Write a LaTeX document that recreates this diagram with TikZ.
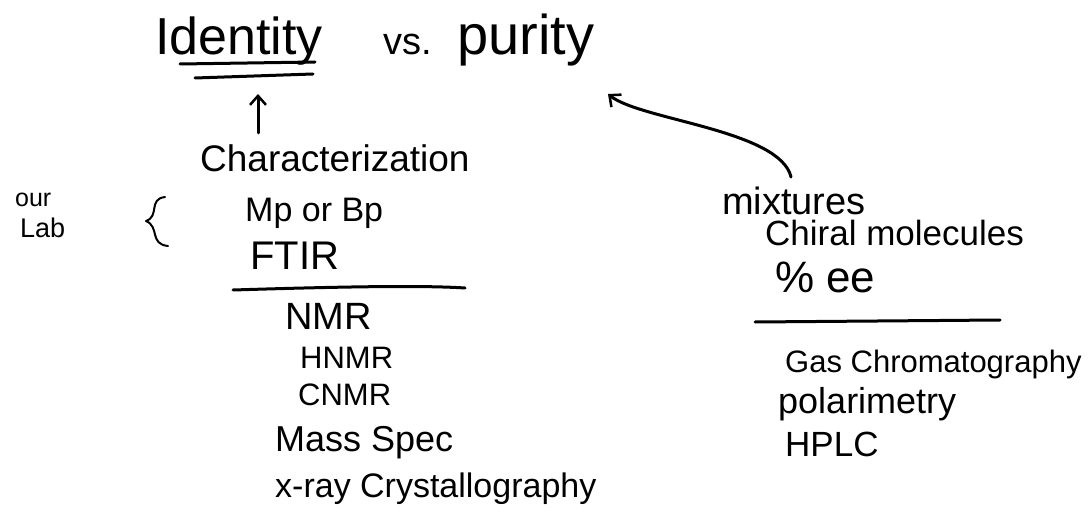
\documentclass[tikz,border=0pt]{standalone}
\usepackage{fontspec}
\setmainfont{Liberation Sans}
\usetikzlibrary{arrows.meta,calc}

\tikzset{
  hw/.style={anchor=base west, inner sep=0pt, font=\fontsize{#1}{#1}\selectfont},
  pen/.style={line width=3pt, line cap=round, line join=round},
  arr/.style={pen, -{Straight Barb[length=9pt,width=16pt,line width=2.5pt]}}
}

\begin{document}
\begin{tikzpicture}[x=1pt, y=-1pt]
    \useasboundingbox (0,0) rectangle (1092,529);

    % title
    \node[hw=52] (ident) at (155,55) {Identity};
    \node[hw=38] (vs) at (383,55) {vs.};
    \node[hw=56] (pur) at (457,55) {purity};

    % double underline
    \draw[pen] (180,64) -- (315,62);
    \draw[pen] (195,78) -- (313,74);

    % left column
    \node[hw=37] (char) at (200,172) {Characterization};
    \node[hw=25] (our) at (15,207) {our};
    \node[hw=27] (lab) at (20,238) {Lab};
    \node[hw=34] (mpbp) at (245,222) {Mp or Bp};
    \node[hw=40] (ftir) at (250,270) {FTIR};
    \draw[pen] (233,290) .. controls (330,287) and (420,285) .. (465,288);
    \node[hw=38] (nmr) at (285,330) {NMR};
    \node[hw=31] (hnmr) at (300,368) {HNMR};
    \node[hw=31] (cnmr) at (298,405) {CNMR};
    \node[hw=36] (mass) at (275,451) {Mass Spec};
    \node[hw=34] (xray) at (275,497) {x-ray Crystallography};

    % brace for our lab
    \draw[pen, line width=2pt] (165,197) .. controls (148,199) and (160,216) .. (146,221)
        .. controls (160,227) and (149,244) .. (168,246);

    % right column
    \node[hw=38] (mix) at (722,215) {mixtures};
    \node[hw=35] (chiral) at (765,246) {Chiral molecules};
    \node[hw=44] (ee) at (775,293) {\% ee};
    \draw[pen] (755,322) -- (1000,320);
    \node[hw=31] (gc) at (785,372) {Gas Chromatography};
    \node[hw=36] (pol) at (778,413) {polarimetry};
    \node[hw=35] (hplc) at (785,456) {HPLC};

    % arrows
    \draw[arr, shorten <=12pt, shorten >=28pt] ([xshift=58pt]char.north west) -- ([xshift=103pt]ident.south west);
    \coordinate (mixtop) at (791,177);
    \coordinate (purtip) at (608,94);
    \draw[arr] (mixtop) .. controls (780,130) and (640,120) .. (purtip);
\end{tikzpicture}
\end{document}
